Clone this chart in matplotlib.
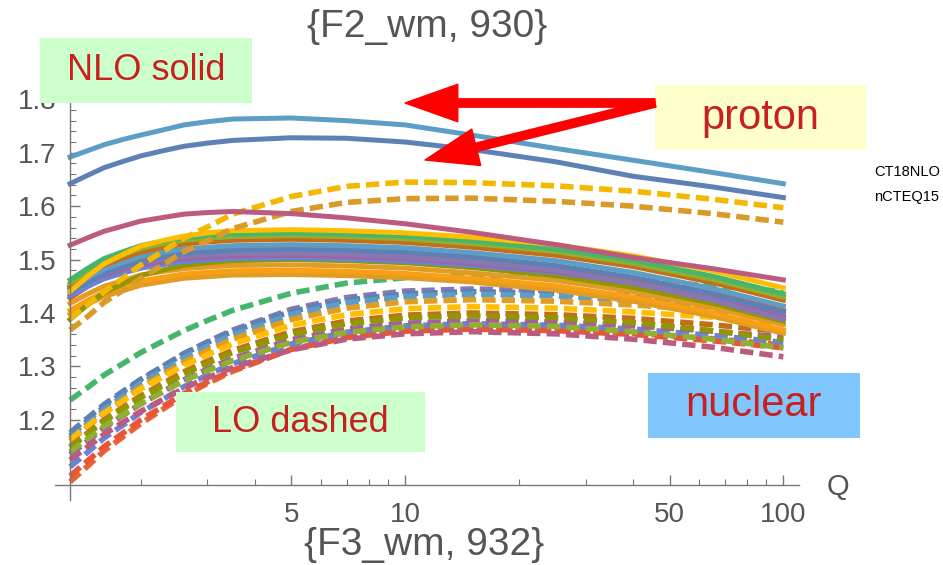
import matplotlib
matplotlib.use("Agg")
from matplotlib import pyplot as plt
from matplotlib import patches
from matplotlib.ticker import FixedLocator, NullFormatter

plt.rcParams['font.family'] = ['Liberation Sans', 'DejaVu Sans']

q = [1.3, 1.45, 1.6, 1.8, 2, 2.3, 2.6, 3, 3.5, 5, 7, 10, 15, 25, 40, 65, 100]

# proton curves (CT18NLO)
proton_nlo_a = [1.692, 1.704, 1.715, 1.725, 1.733, 1.743, 1.752, 1.758, 1.763, 1.765, 1.760, 1.752, 1.733, 1.708, 1.686, 1.663, 1.642]
proton_nlo_b = [1.642, 1.658, 1.672, 1.684, 1.694, 1.704, 1.712, 1.718, 1.723, 1.728, 1.727, 1.720, 1.706, 1.683, 1.656, 1.636, 1.616]
proton_nlo_c = [1.527, 1.541, 1.553, 1.563, 1.572, 1.579, 1.585, 1.588, 1.590, 1.586, 1.578, 1.567, 1.551, 1.528, 1.504, 1.483, 1.462]
proton_lo_a = [1.390, 1.416, 1.440, 1.466, 1.490, 1.516, 1.540, 1.561, 1.585, 1.618, 1.637, 1.645, 1.644, 1.638, 1.628, 1.613, 1.597]
proton_lo_b = [1.368, 1.394, 1.420, 1.443, 1.465, 1.491, 1.515, 1.535, 1.558, 1.590, 1.607, 1.614, 1.615, 1.609, 1.600, 1.586, 1.570]

# nuclear NLO (solid), in drawing order
nuc_nlo = [
    [1.428, 1.450, 1.467, 1.480, 1.492, 1.500, 1.506, 1.510, 1.513, 1.515, 1.513, 1.509, 1.501, 1.486, 1.465, 1.437, 1.405],
    [1.398, 1.417, 1.431, 1.442, 1.452, 1.459, 1.465, 1.468, 1.471, 1.472, 1.470, 1.466, 1.458, 1.443, 1.422, 1.394, 1.362],
    [1.405, 1.424, 1.439, 1.450, 1.460, 1.467, 1.473, 1.476, 1.479, 1.480, 1.478, 1.474, 1.465, 1.451, 1.430, 1.400, 1.368],
    [1.418, 1.436, 1.450, 1.461, 1.471, 1.478, 1.483, 1.486, 1.489, 1.490, 1.488, 1.484, 1.475, 1.461, 1.440, 1.410, 1.378],
    [1.388, 1.416, 1.438, 1.455, 1.470, 1.481, 1.489, 1.494, 1.498, 1.500, 1.498, 1.494, 1.485, 1.470, 1.448, 1.418, 1.385],
    [1.432, 1.450, 1.464, 1.475, 1.484, 1.491, 1.496, 1.499, 1.502, 1.503, 1.501, 1.497, 1.489, 1.476, 1.456, 1.428, 1.398],
    [1.443, 1.459, 1.472, 1.482, 1.490, 1.497, 1.502, 1.504, 1.507, 1.508, 1.506, 1.502, 1.493, 1.478, 1.456, 1.426, 1.392],
    [1.447, 1.463, 1.476, 1.486, 1.494, 1.501, 1.506, 1.508, 1.511, 1.512, 1.510, 1.505, 1.496, 1.480, 1.456, 1.424, 1.388],
    [1.438, 1.459, 1.475, 1.487, 1.498, 1.506, 1.512, 1.515, 1.518, 1.520, 1.518, 1.514, 1.505, 1.489, 1.467, 1.436, 1.402],
    [1.445, 1.466, 1.482, 1.495, 1.506, 1.514, 1.520, 1.523, 1.526, 1.528, 1.526, 1.522, 1.513, 1.498, 1.476, 1.446, 1.413],
    [1.450, 1.472, 1.490, 1.503, 1.514, 1.523, 1.529, 1.533, 1.536, 1.538, 1.536, 1.532, 1.523, 1.508, 1.487, 1.457, 1.424],
    [1.455, 1.478, 1.496, 1.509, 1.521, 1.530, 1.536, 1.540, 1.543, 1.545, 1.543, 1.539, 1.530, 1.515, 1.493, 1.463, 1.430],
    [1.462, 1.484, 1.502, 1.515, 1.526, 1.535, 1.541, 1.545, 1.548, 1.550, 1.548, 1.544, 1.535, 1.520, 1.499, 1.469, 1.436],
    [1.440, 1.469, 1.492, 1.510, 1.525, 1.536, 1.544, 1.550, 1.554, 1.556, 1.554, 1.550, 1.542, 1.528, 1.507, 1.479, 1.447],
]
nuc_nlo_colors = ['#E95536', '#E19C24', '#F89F13', '#E19C24', '#929600', '#6685D9', '#A5609D',
                  '#8778B3', '#5E81B5', '#5D9EC7', '#C56E1A', '#8FB032', '#47B66D', '#FFBF00']

# nuclear LO (dashed), in drawing order
nuc_lo = [
    [1.084, 1.114, 1.142, 1.169, 1.193, 1.221, 1.245, 1.268, 1.291, 1.332, 1.355, 1.368, 1.372, 1.369, 1.362, 1.352, 1.340],
    [1.095, 1.124, 1.150, 1.176, 1.200, 1.226, 1.249, 1.271, 1.293, 1.332, 1.354, 1.366, 1.370, 1.367, 1.360, 1.348, 1.335],
    [1.112, 1.140, 1.166, 1.191, 1.214, 1.239, 1.262, 1.284, 1.305, 1.342, 1.364, 1.376, 1.380, 1.377, 1.370, 1.358, 1.345],
    [1.237, 1.261, 1.284, 1.306, 1.326, 1.348, 1.367, 1.386, 1.405, 1.437, 1.456, 1.466, 1.470, 1.468, 1.461, 1.451, 1.440],
    [1.170, 1.199, 1.225, 1.251, 1.275, 1.301, 1.324, 1.346, 1.368, 1.407, 1.429, 1.441, 1.445, 1.442, 1.432, 1.418, 1.402],
    [1.176, 1.204, 1.229, 1.254, 1.276, 1.301, 1.324, 1.345, 1.366, 1.403, 1.424, 1.436, 1.440, 1.437, 1.427, 1.414, 1.398],
    [1.165, 1.193, 1.219, 1.245, 1.268, 1.293, 1.316, 1.338, 1.359, 1.397, 1.419, 1.431, 1.435, 1.432, 1.423, 1.410, 1.395],
    [1.160, 1.188, 1.213, 1.238, 1.261, 1.286, 1.308, 1.330, 1.351, 1.388, 1.409, 1.421, 1.425, 1.422, 1.415, 1.405, 1.392],
    [1.163, 1.189, 1.213, 1.236, 1.258, 1.281, 1.302, 1.322, 1.342, 1.377, 1.397, 1.408, 1.412, 1.409, 1.402, 1.392, 1.380],
    [1.150, 1.176, 1.200, 1.224, 1.245, 1.269, 1.290, 1.310, 1.330, 1.365, 1.385, 1.396, 1.400, 1.397, 1.390, 1.378, 1.365],
    [1.135, 1.161, 1.185, 1.209, 1.230, 1.254, 1.275, 1.295, 1.315, 1.350, 1.370, 1.381, 1.385, 1.383, 1.376, 1.366, 1.355],
    [1.148, 1.174, 1.197, 1.221, 1.242, 1.265, 1.286, 1.306, 1.326, 1.360, 1.380, 1.391, 1.395, 1.391, 1.382, 1.367, 1.350],
    [1.140, 1.165, 1.188, 1.210, 1.230, 1.253, 1.273, 1.292, 1.311, 1.345, 1.364, 1.374, 1.378, 1.375, 1.365, 1.351, 1.335],
    [1.125, 1.150, 1.173, 1.196, 1.216, 1.239, 1.259, 1.279, 1.298, 1.331, 1.351, 1.361, 1.365, 1.361, 1.351, 1.336, 1.318],
]
nuc_lo_colors = ['#EB6235', '#E95536', '#6685D9', '#47B66D', '#8778B3', '#5E81B5', '#5D9EC7',
                 '#E19C24', '#FFBF00', '#C56E1A', '#A5609D', '#929600', '#8FB032', '#BC5B80']

y_ticks = [1.2, 1.3, 1.4, 1.5, 1.6, 1.7, 1.8]
y_minor = [1.12, 1.14, 1.16, 1.18, 1.22, 1.24, 1.26, 1.28, 1.32, 1.34, 1.36, 1.38,
           1.42, 1.44, 1.46, 1.48, 1.52, 1.54, 1.56, 1.58, 1.62, 1.64, 1.66, 1.68,
           1.72, 1.74, 1.76, 1.78, 1.1]
x_ticks = [5, 10, 50, 100]
x_minor = [2, 3, 4, 6, 7, 8, 9, 20, 30, 40, 60, 70, 80, 90]

W, H = 943, 565
fig = plt.figure(figsize=(W / 100, H / 100), dpi=100)
ax = fig.add_axes([55 / W, (H - 500) / H, 744 / W, 405 / H])
ax.set_xscale('log')

dash = (0, (2.4, 1.1))
for vals, c in zip(nuc_lo, nuc_lo_colors):
    ax.plot(q, vals, color=c, lw=4.0, ls=dash, dash_capstyle='butt')
for vals, c in zip(nuc_nlo, nuc_nlo_colors):
    ax.plot(q, vals, color=c, lw=3.6, solid_joinstyle='round')
ax.plot(q, proton_lo_a, color='#F5B800', lw=4.0, ls=dash)
ax.plot(q, proton_lo_b, color='#D99A28', lw=4.0, ls=dash)
ax.plot(q, proton_nlo_c, color='#BC5B80', lw=3.6, solid_joinstyle='round')
ax.plot(q, proton_nlo_a, color='#5D9EC7', lw=3.6, solid_joinstyle='round')
ax.plot(q, proton_nlo_b, color='#5E81B5', lw=3.6, solid_joinstyle='round')

ax.set_xlim(1.186, 110)
ax.set_ylim(1.05, 1.808)
for s in ['top', 'right']:
    ax.spines[s].set_visible(False)
ax.spines['left'].set_position(('data', 1.3))
ax.spines['bottom'].set_position(('data', 1.078))
for s in ['left', 'bottom']:
    ax.spines[s].set_color('#777777')
    ax.spines[s].set_linewidth(1.0)

ax.xaxis.set_major_locator(FixedLocator(x_ticks))
ax.xaxis.set_minor_locator(FixedLocator(x_minor))
ax.set_xticklabels([str(v) for v in x_ticks])
ax.xaxis.set_minor_formatter(NullFormatter())
ax.set_yticks(y_ticks)
ax.set_yticklabels([f'{v:.1f}' for v in y_ticks])
ax.set_yticks(y_minor, minor=True)
ax.tick_params(which='both', direction='in', colors='#777777', labelcolor='#555555', labelsize=20)
ax.tick_params(which='major', length=7, width=1)
ax.tick_params(which='minor', length=4, width=0.8)
ax.tick_params(axis='y', pad=10)
ax.tick_params(axis='x', pad=12)

fig.text(838 / W, 1 - 487 / H, 'Q', fontsize=21, color='#555555', ha='center', va='center')
fig.text(427 / W, 1 - 27 / H, '{F2_wm, 930}', fontsize=28, color='#555555', ha='center', va='center')
fig.text(424 / W, 1 - 545 / H, '{F3_wm, 932}', fontsize=28, color='#555555', ha='center', va='center')


def box(x0, y0, x1, y1, color, text, size):
    fig.add_artist(patches.Rectangle((x0 / W, 1 - y1 / H), (x1 - x0) / W, (y1 - y0) / H,
                                     transform=fig.transFigure, facecolor=color, edgecolor='none'))
    fig.text((x0 + x1) / 2 / W, 1 - (y0 + y1) / 2 / H, text, fontsize=size, color='#C8201E',
             ha='center', va='center')


box(40, 38, 252, 103, '#CCFFCC', 'NLO solid', 26)
box(655, 85, 866, 150, '#FFFFCC', 'proton', 30)
box(176, 392, 425, 452, '#CCFFCC', 'LO dashed', 26)
box(648, 373, 860, 438, '#80C6FF', 'nuclear', 30)

fig.text(874 / W, 1 - 172 / H, 'CT18NLO', fontsize=10.5, color='black', va='center')
fig.text(874 / W, 1 - 197 / H, 'nCTEQ15', fontsize=10.5, color='black', va='center')

for tip in [(405, 103), (425, 160)]:
    fig.add_artist(patches.FancyArrowPatch(
        (655 / W, 1 - 103 / H), (tip[0] / W, 1 - tip[1] / H), transform=fig.transFigure,
        arrowstyle='simple,head_width=2.7,head_length=3.8,tail_width=0.6',
        mutation_scale=10, color='#FF0000', shrinkA=0, shrinkB=0))

fig.savefig('out.png', dpi=100)
